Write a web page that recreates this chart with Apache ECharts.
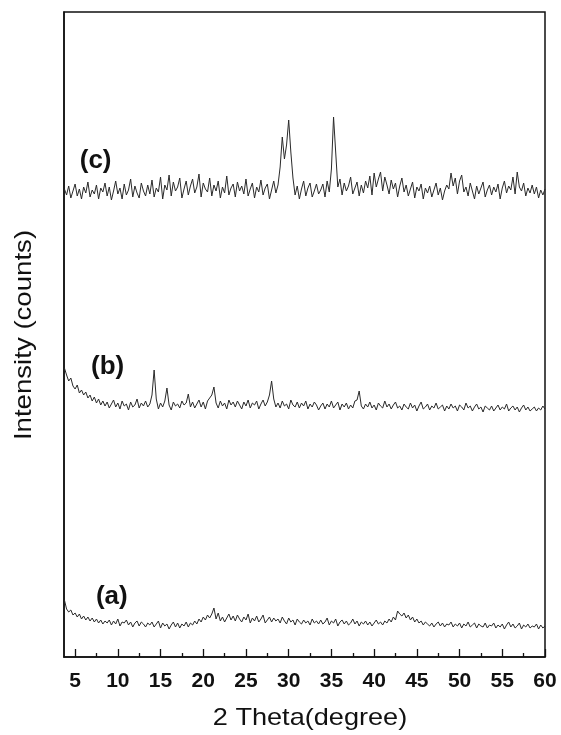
<!DOCTYPE html>
<html>
<head>
<meta charset="utf-8">
<script src="https://cdn.jsdelivr.net/npm/echarts@6/dist/echarts.min.js"></script>
<style>
  html, body { margin: 0; padding: 0; background: #fff; }
  #chart { width: 561px; height: 735px; }
</style>
</head>
<body>
<div id="chart"></div>
<script>
// XRD scan: 2θ from 3.75° to 60° in 0.25° steps
const scanStart = 3.75;
const scanStep = 0.25;

// Curve names
const curveNames = ['(a)', '(b)', '(c)'];

// Axis titles
const xTitle = '2 Theta(degree)';
const yTitle = 'Intensity (counts)';

// Intensity (arbitrary counts, traces stacked with offsets)
const curveA = [
  57,48,45,47,42,44,40,43,38,41,37,40,36,39,35,38,34,37,33,36,
  34,37,32,36,33,38,31,35,34,37,32,35,30,34,36,31,35,33,30,34,
  32,35,30,33,36,29,34,31,33,28,32,35,30,34,29,33,31,35,30,34,
  32,36,33,38,35,40,37,42,39,43,49,38,44,36,40,35,39,43,37,41,
  36,42,38,35,40,37,43,34,39,36,41,35,38,42,34,37,40,35,39,36,
  38,34,40,36,33,39,35,37,32,38,35,33,37,34,36,32,38,34,36,33,
  37,33,35,39,32,36,34,38,31,35,37,33,36,32,34,38,33,36,31,35,
  33,36,32,35,31,34,37,33,35,32,36,34,38,35,40,37,46,43,41,44,
  39,42,37,40,35,38,34,36,32,35,33,31,34,30,33,35,31,34,30,33,
  32,35,30,33,31,34,29,33,31,35,30,32,34,29,33,31,30,34,29,32,
  31,34,29,32,30,33,28,32,35,30,33,29,31,34,28,32,30,33,29,31,
  30,33,28,32,29,31
];

const curveB = [
  289,282,276,279,271,268,272,264,267,262,265,259,262,256,260,254,258,252,256,251,
  255,249,253,257,250,254,248,256,251,253,247,255,250,252,258,249,254,251,256,250,
  253,262,287,258,248,254,250,256,269,252,247,255,251,253,249,256,252,254,263,250,
  255,249,253,257,250,255,248,256,259,262,270,254,249,256,251,254,248,257,252,255,
  250,256,252,248,255,251,257,249,254,252,256,248,253,257,251,255,262,276,258,250,
  254,249,256,251,253,248,257,252,250,255,249,254,251,256,248,253,250,255,252,247,
  251,254,248,253,250,256,249,252,255,247,253,250,254,248,252,249,256,257,266,251,
  248,253,250,255,249,252,247,254,251,249,256,250,253,248,252,255,249,251,247,253,
  250,248,254,249,252,246,251,255,248,250,253,247,251,249,254,248,250,252,246,251,
  248,253,249,251,246,252,250,247,254,249,251,246,250,253,248,250,245,251,249,247,
  251,246,249,252,247,250,248,253,246,249,251,247,250,245,249,252,247,250,246,248,
  250,246,249,247,251,248
];

const curveC = [
  468,462,471,459,466,473,461,468,458,470,464,475,460,467,463,472,458,469,465,474,
  461,470,457,466,476,463,469,458,473,462,467,478,460,471,464,459,474,466,461,472,
  463,477,460,469,465,480,458,472,467,482,461,475,466,470,479,459,468,476,462,471,
  478,464,470,483,460,474,468,465,479,461,472,466,476,459,470,464,481,462,469,473,
  460,475,466,471,463,478,461,468,474,459,470,465,477,462,469,473,458,467,476,464,
  472,490,520,498,512,537,505,479,462,471,458,468,476,461,469,474,460,466,473,463,
  467,473,460,476,465,488,540,505,470,478,462,474,466,471,480,463,469,475,461,472,
  464,476,469,481,462,484,470,478,485,466,480,472,463,477,468,474,460,471,479,465,
  472,461,468,475,459,470,466,473,458,469,464,471,460,467,474,462,469,457,466,472,
  468,484,471,479,463,476,482,465,470,461,474,466,458,471,463,469,475,460,467,472,
  462,470,465,473,458,469,476,464,471,467,480,463,485,470,466,474,461,469,464,472,
  463,470,459,467,462,468
];

// Axis ticks
const majorTicks = [5, 10, 15, 20, 25, 30, 35, 40, 45, 50, 55, 60];
const minorTicks = [7.5, 12.5, 17.5, 22.5, 27.5, 32.5, 37.5, 42.5, 47.5, 52.5, 57.5];

function toPairs(values) {
  return values.map((v, i) => [scanStart + i * scanStep, v]);
}

const fontFamily = '"Liberation Sans", Arial, sans-serif';
const xMin = 3.7, xMax = 60;

function curveSeries(name, values, labelAt) {
  return {
    name: name,
    type: 'line',
    data: toPairs(values),
    showSymbol: false,
    smooth: false,
    animation: false,
    lineStyle: { color: '#2a2a2a', width: 1 },
    markPoint: {
      symbol: 'rect',
      symbolSize: 1,
      itemStyle: { color: 'rgba(0,0,0,0)' },
      label: {
        show: true,
        position: 'inside',
        formatter: name,
        fontFamily: fontFamily,
        fontWeight: 'bold',
        fontSize: 26,
        color: '#111'
      },
      data: [{ coord: labelAt }]
    }
  };
}

const chart = echarts.init(document.getElementById('chart'), null, { renderer: 'canvas' });
chart.setOption({
  backgroundColor: '#fff',
  animation: false,
  grid: {
    left: 64, right: 16, top: 12, bottom: 78,
    show: true, borderColor: '#111', borderWidth: 1.5, backgroundColor: 'transparent'
  },
  xAxis: [
    {
      type: 'value', min: xMin, max: xMax,
      axisLine: { show: true, lineStyle: { color: '#111', width: 1.5 } },
      axisTick: { show: true, inside: true, length: 8, customValues: majorTicks, lineStyle: { color: '#111', width: 1.3 } },
      axisLabel: { show: true, customValues: majorTicks, margin: 14, fontFamily: fontFamily, fontWeight: 'bold', fontSize: 21, color: '#111' },
      splitLine: { show: false }
    },
    {
      type: 'value', min: xMin, max: xMax, position: 'bottom',
      axisLine: { show: false },
      axisTick: { show: true, inside: true, length: 4, customValues: minorTicks, lineStyle: { color: '#111', width: 1.3 } },
      axisLabel: { show: false },
      splitLine: { show: false }
    }
  ],
  yAxis: {
    type: 'value', min: 0, max: 645,
    axisLine: { show: true, lineStyle: { color: '#111', width: 1.5 } },
    axisTick: { show: false },
    axisLabel: { show: false },
    splitLine: { show: false }
  },
  graphic: [
    {
      type: 'text', x: 310, y: 718, scaleX: 1.13,
      style: { text: xTitle, font: '24px ' + fontFamily, fill: '#111', textAlign: 'center', textVerticalAlign: 'middle' }
    },
    {
      type: 'text', x: 24, y: 335, rotation: Math.PI / 2, scaleX: 1.15,
      style: { text: yTitle, font: '24px ' + fontFamily, fill: '#111', textAlign: 'center', textVerticalAlign: 'middle' }
    }
  ],
  series: [
    curveSeries(curveNames[0], curveA, [9.3, 60]),
    curveSeries(curveNames[1], curveB, [8.8, 290]),
    curveSeries(curveNames[2], curveC, [7.4, 496])
  ]
});
</script>
</body>
</html>
